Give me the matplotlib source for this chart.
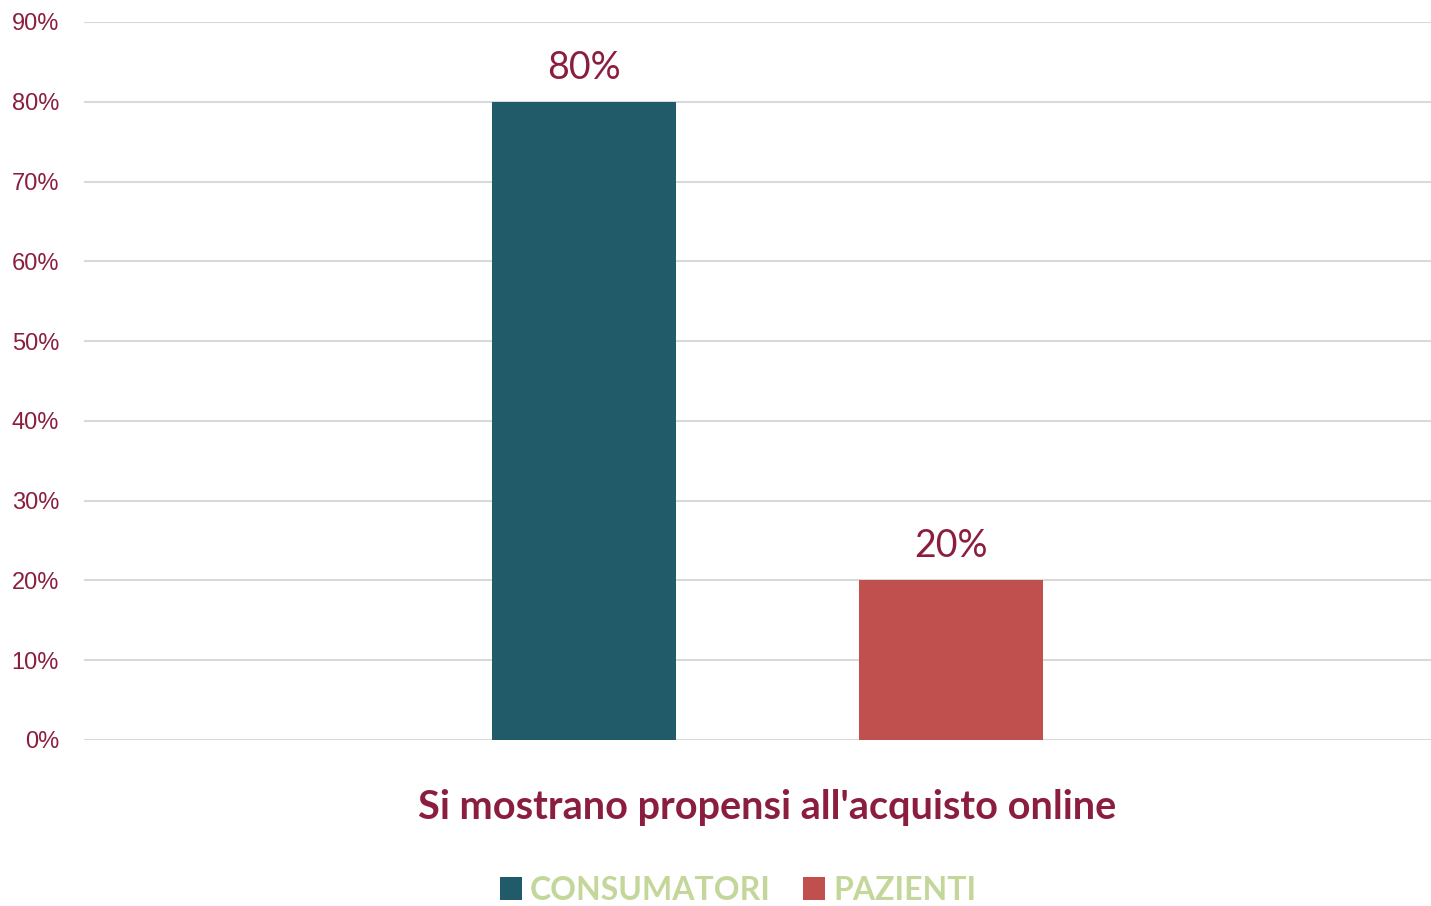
import numpy as np
import matplotlib.pyplot as plt
from matplotlib.patches import Patch

# data
series = ['CONSUMATORI', 'PAZIENTI']
values = [0.80, 0.20]
category = "Si mostrano propensi all'acquisto online"
y_ticks = [0.0, 0.1, 0.2, 0.3, 0.4, 0.5, 0.6, 0.7, 0.8, 0.9]

bar_colors = ['#215B69', '#C0504D']
text_red = '#8B1E3F'
legend_green = '#C4D79B'

fig = plt.figure(figsize=(14.31, 9.06), dpi=100)
ax = fig.add_axes([84 / 1431, 1 - 740 / 906, 1 - 84 / 1431, (740 - 22) / 906])

x = np.arange(len(values))
bars = ax.bar(x, values, width=0.5, color=bar_colors, zorder=3)

for xi, v in zip(x, values):
    ax.text(xi, v + 0.02, f'{int(round(v * 100))}%', ha='center', va='bottom',
            fontsize=27, color=text_red, family='Lato')

ax.set_xlim(-1.362, 2.308)
ax.set_ylim(0, 0.9)
ax.set_yticks(y_ticks)
ax.set_yticklabels([f'{int(round(t * 100))}%' for t in y_ticks],
                   fontsize=17, color=text_red, family='Liberation Sans')
ax.tick_params(axis='y', length=0, pad=18)
ax.set_xticks([])
ax.grid(axis='y', color='#D9D9D9', linewidth=1.5, zorder=0)
for s in ax.spines.values():
    s.set_visible(False)

fig.text(767 / 1431, 1 - 808 / 906, category, ha='center', va='center',
         fontsize=28.5, fontweight='bold', color=text_red, family='Lato')

handles = [Patch(facecolor=c, edgecolor='none') for c in bar_colors]
leg = fig.legend(handles, series, loc='center', bbox_to_anchor=(738 / 1431, 1 - 890 / 906),
                 ncol=2, frameon=False, handlelength=0.7, handleheight=0.7,
                 handletextpad=0.25, columnspacing=1.0,
                 prop={'family': 'Lato', 'weight': 'bold', 'size': 23})
for t in leg.get_texts():
    t.set_color(legend_green)

fig.savefig('out.png', dpi=100)
